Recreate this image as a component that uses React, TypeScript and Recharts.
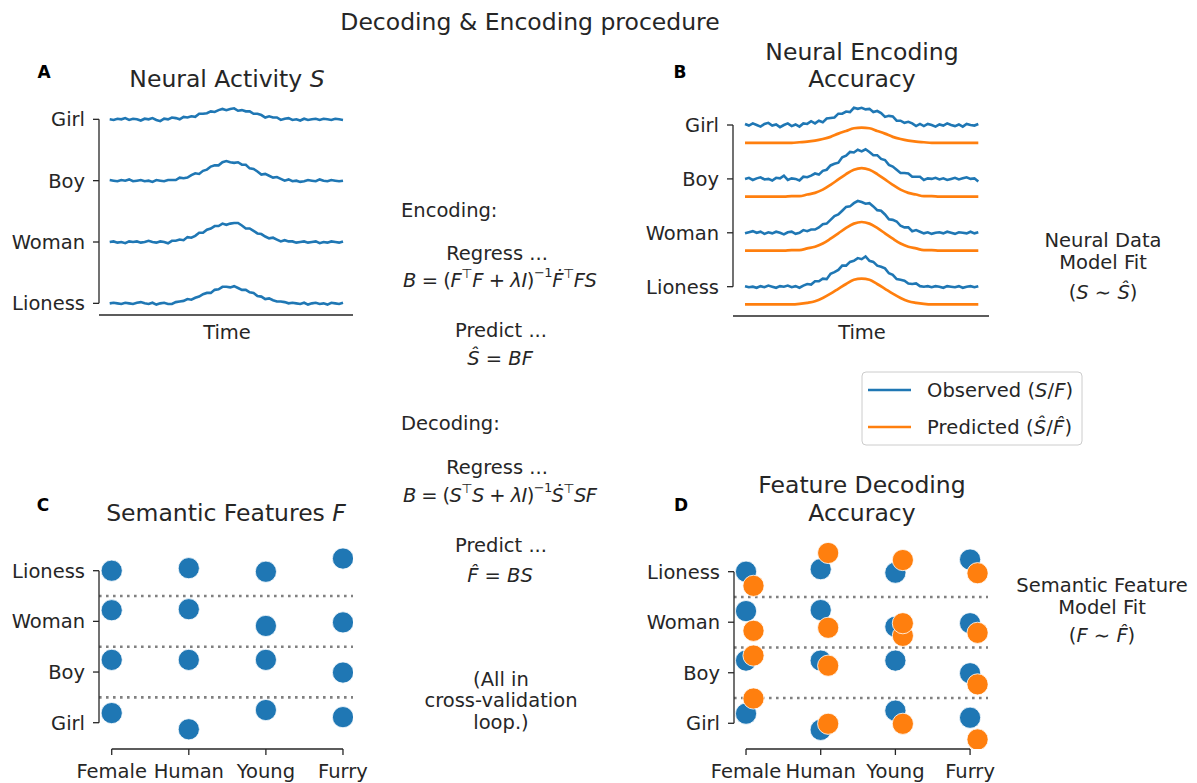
import React from 'react';
import { LineChart, Line, XAxis, YAxis, ReferenceLine, ScatterChart, Scatter } from 'recharts';

// ---------------- data ----------------
const rowsTopDown = ['Girl', 'Boy', 'Woman', 'Lioness'];
const features = ['Female', 'Human', 'Young', 'Furry'];

// Panel A: neural activity S (deviation from each word's row)
const activityGirl = [0.00,-0.01,0.01,0.00,0.02,-0.01,0.01,0.00,-0.02,0.01,
  0.00,0.02,-0.01,-0.03,0.01,0.00,0.03,0.02,0.00,0.04,
  0.03,0.05,0.04,0.09,0.09,0.10,0.13,0.12,0.15,0.17,
  0.15,0.17,0.18,0.14,0.15,0.13,0.13,0.09,0.09,0.07,
  0.03,0.05,0.03,0.03,-0.01,0.01,0.02,-0.01,0.00,-0.02,
  0.01,-0.01,0.00,0.01,-0.01,0.01,0.00,-0.01,0.01,0.00,
  -0.01];
const activityBoy = [0.01,0.00,-0.01,0.01,0.00,0.02,-0.01,0.00,0.01,-0.01,
  0.00,-0.02,0.01,0.00,-0.01,0.01,0.01,0.01,0.05,0.04,
  0.05,0.09,0.12,0.11,0.16,0.18,0.23,0.25,0.25,0.30,
  0.32,0.30,0.29,0.30,0.26,0.26,0.20,0.19,0.15,0.10,
  0.11,0.08,0.05,0.06,0.03,0.00,0.02,-0.01,0.00,-0.02,
  -0.01,0.01,0.00,-0.01,0.02,0.00,-0.01,0.01,0.00,-0.01,
  0.00];
const activityWoman = [0.00,0.01,-0.01,0.00,-0.02,0.01,0.00,0.01,-0.01,0.00,
  0.02,0.00,-0.01,0.01,0.00,-0.02,0.02,0.02,0.04,0.03,
  0.08,0.07,0.10,0.15,0.15,0.20,0.22,0.26,0.26,0.30,
  0.28,0.30,0.31,0.31,0.27,0.22,0.22,0.18,0.14,0.13,
  0.09,0.06,0.07,0.04,0.01,0.03,0.01,0.01,-0.01,0.00,
  0.01,-0.01,0.00,0.01,-0.02,0.00,-0.01,0.01,0.00,-0.01,
  0.01];
const activityLioness = [0.00,0.01,0.00,-0.01,0.01,0.00,-0.01,0.01,0.02,0.00,
  -0.01,0.01,-0.02,0.00,0.01,-0.01,-0.01,0.02,0.03,0.04,
  0.07,0.06,0.09,0.11,0.15,0.17,0.17,0.22,0.23,0.27,
  0.27,0.26,0.28,0.25,0.22,0.22,0.18,0.17,0.12,0.11,
  0.07,0.08,0.05,0.03,0.03,0.02,0.00,0.01,0.00,-0.01,
  0.01,-0.02,0.00,0.01,-0.01,0.00,-0.02,0.01,0.00,-0.01,
  0.01];

// Panel B: observed (blue) and predicted (orange)
const observedGirl = [0.02,-0.01,0.03,0.00,-0.03,0.02,0.04,-0.01,0.01,-0.04,
  0.00,0.03,-0.02,0.01,-0.03,0.03,0.02,0.07,0.03,0.08,
  0.05,0.12,0.13,0.14,0.21,0.21,0.25,0.24,0.32,0.30,
  0.32,0.29,0.30,0.24,0.26,0.22,0.15,0.17,0.16,0.08,
  0.08,0.04,0.06,0.03,-0.02,0.02,-0.02,0.02,0.00,-0.03,
  0.01,-0.01,0.03,0.00,-0.02,0.01,-0.03,0.02,0.00,-0.01,
  0.02];
const observedBoy = [0.00,0.02,-0.02,0.01,0.03,-0.01,0.00,-0.03,0.02,0.01,
  0.06,-0.02,0.01,0.00,-0.03,0.04,0.03,0.06,0.10,0.08,
  0.15,0.17,0.25,0.28,0.30,0.40,0.43,0.50,0.49,0.54,
  0.51,0.55,0.50,0.44,0.44,0.37,0.35,0.26,0.23,0.17,
  0.11,0.11,0.10,0.04,0.04,0.04,-0.02,0.01,0.00,0.02,
  -0.01,0.01,-0.02,0.00,0.02,-0.01,0.01,0.03,0.00,0.01,
  -0.05];
const observedWoman = [-0.01,0.01,0.03,0.00,0.02,-0.02,0.01,-0.01,0.02,0.00,
  -0.03,0.01,0.02,-0.02,0.00,0.05,0.03,0.06,0.06,0.10,
  0.16,0.17,0.24,0.31,0.34,0.41,0.48,0.49,0.55,0.59,
  0.57,0.54,0.55,0.49,0.42,0.41,0.34,0.25,0.24,0.21,
  0.13,0.10,0.10,0.03,0.05,0.02,-0.01,0.01,-0.02,0.00,
  0.01,-0.01,0.02,0.00,-0.02,0.01,0.00,-0.01,0.02,-0.01,
  0.01];
const observedLioness = [0.01,-0.01,0.00,-0.02,0.01,-0.01,0.02,0.00,-0.02,0.01,
  0.00,0.02,-0.01,0.01,-0.02,0.02,0.05,0.04,0.10,0.10,
  0.15,0.14,0.24,0.27,0.31,0.39,0.39,0.46,0.48,0.53,
  0.51,0.56,0.48,0.46,0.39,0.37,0.34,0.25,0.22,0.14,
  0.13,0.11,0.06,0.05,0.06,0.01,0.00,0.01,-0.01,0.01,
  0.00,-0.02,0.01,0.00,-0.01,0.01,-0.02,0.00,0.01,-0.01,
  0.01];

const predictedTime = [0,2,4,6,8,10,12,14,16,18,20,22,24,26,28,30,32,34,36,38,40,42,44,46,48,50,52,54,56,58,60];
const predictedGirl = [0,0,0,0,0,0,0,0.01,0.02,0.04,0.07,0.11,0.17,0.22,0.27,0.28,0.27,0.22,0.17,0.11,0.07,0.04,0.02,0.01,0,0,0,0,0,0,0];
const predictedBoy = [0,0,0,0,0,0,0.01,0.01,0.04,0.07,0.13,0.22,0.32,0.42,0.50,0.53,0.50,0.42,0.32,0.22,0.13,0.07,0.04,0.01,0.01,0,0,0,0,0,0];
const predictedWoman = [0,0,0,0,0,0,0.01,0.01,0.04,0.07,0.13,0.22,0.32,0.42,0.50,0.53,0.50,0.42,0.32,0.22,0.13,0.07,0.04,0.01,0.01,0,0,0,0,0,0];
const predictedLioness = [0,0,0,0,0,0,0,0.01,0.03,0.06,0.12,0.20,0.29,0.38,0.46,0.48,0.46,0.38,0.29,0.20,0.12,0.06,0.03,0.01,0,0,0,0,0,0,0];
const predictedOffset = -0.33;

// Panel C/D: semantic features F (deviation from row), order Female, Human, Young, Furry
const featureGirl = [0.19, -0.13, 0.25, 0.11];
const featureBoy = [0.24, 0.24, 0.24, -0.01];
const featureWoman = [0.22, 0.24, -0.09, -0.02];
const featureLioness = [0.00, 0.05, -0.02, 0.24];
// Panel D: decoded features F-hat
const decodedGirl = [0.49, -0.01, -0.01, -0.32];
const decodedBoy = [0.34, 0.14, 0.73, -0.23];
const decodedWoman = [-0.17, -0.11, -0.02, -0.21];
const decodedLioness = [-0.28, 0.37, 0.23, -0.03];
const decodedShift = 0.1;

// ---------------- style ----------------
const FONT = '"DejaVu Sans", "Liberation Sans", sans-serif';
const INK = '#262626';
const BLUE = '#1f77b4';
const ORANGE = '#ff7f0e';
const tickStyle = { fill: INK, fontSize: 19.5, fontFamily: FONT };
const axisStroke = { stroke: INK, strokeWidth: 1.3 };

const labelsTopDown = ['Lioness', 'Woman', 'Boy', 'Girl'];
const labelsBottomUp = ['Girl', 'Boy', 'Woman', 'Lioness'];

// ---------------- tables ----------------
const activityTable = activityGirl.map((v, i) => ({
  t: i,
  Girl: 3 + v,
  Boy: 2 + activityBoy[i],
  Woman: 1 + activityWoman[i],
  Lioness: 0 + activityLioness[i],
}));
const observedTable = observedGirl.map((v, i) => ({
  t: i,
  Girl: 3 + v,
  Boy: 2 + observedBoy[i],
  Woman: 1 + observedWoman[i],
  Lioness: 0 + observedLioness[i],
}));
const predictedTable = predictedTime.map((t, i) => ({
  t,
  Girl: 3 + predictedOffset + predictedGirl[i],
  Boy: 2 + predictedOffset + predictedBoy[i],
  Woman: 1 + predictedOffset + predictedWoman[i],
  Lioness: 0 + predictedOffset + predictedLioness[i],
}));

const featureRows = [featureGirl, featureBoy, featureWoman, featureLioness];
const decodedRows = [decodedGirl, decodedBoy, decodedWoman, decodedLioness];
const featurePoints = featureRows.flatMap((row, r) => row.map((v, j) => ({ x: j, y: r + v })));
const decodedPoints = decodedRows.flatMap((row, r) => row.map((v, j) => ({ x: j + decodedShift, y: r + v })));

const Dot = (color: string) => (p: any) => (
  <circle cx={p.cx} cy={p.cy} r={10.6} fill={color} stroke="#ffffff" strokeWidth={0.8} />
);

function TracePanel(props: { left: number; top: number; width: number; yAxisWidth: number; right: number; dom: any; children?: any; data: any[] }) {
  const { dom } = props;
  return (
    <div style={{ position: 'absolute', left: props.left, top: props.top }}>
      <LineChart width={props.width} height={260} data={props.data} margin={{ top: 10, right: props.right, bottom: 0, left: 0 }}>
        <XAxis type="number" dataKey="t" domain={[dom.xMin, dom.xMax]} allowDataOverflow tick={false} tickLine={false} axisLine={axisStroke} height={dom.xh} />
        <YAxis type="number" domain={[dom.yMin, dom.yMax]} allowDataOverflow ticks={[0, 1, 2, 3]} interval={0}
          tickFormatter={(v: number) => labelsTopDown[v]} axisLine={false} tickLine={axisStroke} tickSize={6} tickMargin={8}
          tick={tickStyle} width={props.yAxisWidth} />
        <ReferenceLine segment={[{ x: dom.xMin, y: 0 }, { x: dom.xMin, y: 3 }]} stroke={INK} strokeWidth={1.3} ifOverflow="visible" />
        {props.children}
      </LineChart>
    </div>
  );
}

function DotPanel(props: { left: number; top: number; width: number; yAxisWidth: number; right: number; dom: any; showDecoded: boolean }) {
  const { dom } = props;
  return (
    <div style={{ position: 'absolute', left: props.left, top: props.top }}>
      <ScatterChart width={props.width} height={263} margin={{ top: 20, right: props.right, bottom: 0, left: 0 }}>
        <XAxis type="number" dataKey="x" domain={[dom.xMin, dom.xMax]} allowDataOverflow ticks={[0, 1, 2, 3]} interval={0}
          tickFormatter={(v: number) => features[v]} axisLine={false} tickLine={axisStroke} tickSize={6} tickMargin={9}
          tick={tickStyle} height={34} />
        <YAxis type="number" dataKey="y" domain={[dom.yMin, dom.yMax]} allowDataOverflow ticks={[0, 1, 2, 3]} interval={0}
          tickFormatter={(v: number) => labelsBottomUp[v]} axisLine={false} tickLine={axisStroke} tickSize={6} tickMargin={8}
          tick={tickStyle} width={props.yAxisWidth} />
        {[0.5, 1.5, 2.5].map((y) => (
          <ReferenceLine key={y} y={y} stroke="#808080" strokeWidth={2.6} strokeDasharray="2.6 4.4" />
        ))}
        <ReferenceLine segment={[{ x: dom.xMin, y: 0 }, { x: dom.xMin, y: 3 }]} stroke={INK} strokeWidth={1.3} ifOverflow="visible" />
        <ReferenceLine segment={[{ x: 0, y: dom.yMin }, { x: 3, y: dom.yMin }]} stroke={INK} strokeWidth={1.3} ifOverflow="visible" />
        <Scatter data={featurePoints} fill={BLUE} shape={Dot(BLUE)} isAnimationActive={false} />
        {props.showDecoded && <Scatter data={decodedPoints} fill={ORANGE} shape={Dot(ORANGE)} isAnimationActive={false} />}
      </ScatterChart>
    </div>
  );
}

const it = { fontStyle: 'italic' as const };
const sup = 13;

export default function App() {
  const domA = { xMin: -2.75, xMax: 62.57, yMin: -0.19, yMax: 3.315, xh: 35 };
  const domB = { xMin: -3.09, xMax: 62.75, yMin: -0.544, yMax: 3.464, xh: 34 };
  const domC = { xMin: -0.165, xMax: 3.13, yMin: -0.519, yMax: 3.606 };
  const domD = { xMin: -0.161, xMax: 3.24, yMin: -0.509, yMax: 3.627 };
  const T = (p: any) => (
    <text fontFamily={FONT} fill={INK} fontSize={19.5} textAnchor="middle" dominantBaseline="central" {...p} />
  );
  return (
    <div style={{ position: 'absolute', left: 0, top: 0, width: 1197, height: 783, background: '#fff', fontFamily: FONT }}>
      <TracePanel left={0} top={90} width={370} yAxisWidth={99} right={17} dom={domA} data={activityTable}>
        {rowsTopDown.map((w) => (
          <Line key={w} type="linear" dataKey={w} stroke={BLUE} strokeWidth={2.6} dot={false} isAnimationActive={false} />
        ))}
      </TracePanel>
      <TracePanel left={620} top={90} width={390} yAxisWidth={113} right={21} dom={domB} data={observedTable}>
        {rowsTopDown.map((w) => (
          <Line key={'o' + w} type="linear" dataKey={w} stroke={BLUE} strokeWidth={2.6} dot={false} isAnimationActive={false} />
        ))}
        {rowsTopDown.map((w) => (
          <Line key={'p' + w} type="monotone" data={predictedTable} dataKey={w} stroke={ORANGE} strokeWidth={2.7} dot={false} isAnimationActive={false} />
        ))}
      </TracePanel>
      <DotPanel left={0} top={520} width={370} yAxisWidth={99} right={17} dom={domC} showDecoded={false} />
      <DotPanel left={620} top={520} width={1010 - 620} yAxisWidth={114} right={22} dom={domD} showDecoded={true} />

      <svg width={1197} height={783} style={{ position: 'absolute', left: 0, top: 0, pointerEvents: 'none' }}>
        <T x={530} y={22} fontSize={23.5}>Decoding &amp; Encoding procedure</T>

        <T x={44} y={72} fontSize={17} fontWeight="bold" fill="#000">A</T>
        <T x={227} y={79} fontSize={23.5}>Neural Activity <tspan style={it}>S</tspan></T>
        <T x={227} y={332}>Time</T>

        <T x={680} y={72} fontSize={17} fontWeight="bold" fill="#000">B</T>
        <T x={862} y={52} fontSize={23.5}>Neural Encoding</T>
        <T x={862} y={79} fontSize={23.5}>Accuracy</T>
        <T x={862} y={332}>Time</T>

        <T x={43} y={505} fontSize={17} fontWeight="bold" fill="#000">C</T>
        <T x={226} y={513} fontSize={23.5}>Semantic Features <tspan style={it}>F</tspan></T>

        <T x={681} y={505} fontSize={17} fontWeight="bold" fill="#000">D</T>
        <T x={862} y={485} fontSize={23.5}>Feature Decoding</T>
        <T x={862} y={513} fontSize={23.5}>Accuracy</T>

        <T x={401} y={210} textAnchor="start">Encoding:</T>
        <T x={497} y={253}>Regress ...</T>
        <T x={500} y={280} textLength={194} lengthAdjust="spacing"><tspan style={it}>B</tspan> = (<tspan style={it}>F</tspan><tspan dy={-7} fontSize={sup}>⊤</tspan><tspan dy={7} style={it}>F</tspan> + <tspan style={it}>λI</tspan>)<tspan dy={-8} fontSize={sup}>−1</tspan><tspan dy={8} style={it}>F&#775;</tspan><tspan dy={-7} fontSize={sup}>⊤</tspan><tspan dy={7} style={it}>FS</tspan></T>
        <T x={501} y={330}>Predict ...</T>
        <T x={500} y={358}><tspan style={it}>S&#770;</tspan> = <tspan style={it}>BF</tspan></T>

        <T x={401} y={423} textAnchor="start">Decoding:</T>
        <T x={497} y={467}>Regress ...</T>
        <T x={500} y={495} textLength={194} lengthAdjust="spacing"><tspan style={it}>B</tspan> = (<tspan style={it}>S</tspan><tspan dy={-7} fontSize={sup}>⊤</tspan><tspan dy={7} style={it}>S</tspan> + <tspan style={it}>λI</tspan>)<tspan dy={-8} fontSize={sup}>−1</tspan><tspan dy={8} style={it}>S&#775;</tspan><tspan dy={-7} fontSize={sup}>⊤</tspan><tspan dy={7} style={it}>SF</tspan></T>
        <T x={501} y={545}>Predict ...</T>
        <T x={500} y={575}><tspan style={it}>F&#770;</tspan> = <tspan style={it}>BS</tspan></T>

        <T x={501} y={679}>(All in</T>
        <T x={501} y={700}>cross-validation</T>
        <T x={501} y={722}>loop.)</T>

        <T x={1103} y={240}>Neural Data</T>
        <T x={1103} y={262}>Model Fit</T>
        <T x={1103} y={292}>(<tspan style={it}>S</tspan> ∼ <tspan style={it}>S&#770;</tspan>)</T>

        <T x={1102} y={585}>Semantic Feature</T>
        <T x={1102} y={607}>Model Fit</T>
        <T x={1102} y={635}>(<tspan style={it}>F</tspan> ∼ <tspan style={it}>F&#770;</tspan>)</T>

        <rect x={862} y={372} width={220} height={73} rx={4} fill="#ffffff" fillOpacity={0.8} stroke="#cccccc" strokeWidth={1} />
        <line x1={868} x2={911} y1={390} y2={390} stroke={BLUE} strokeWidth={2.6} />
        <line x1={868} x2={911} y1={427} y2={427} stroke={ORANGE} strokeWidth={2.6} />
        <T x={927} y={390} textAnchor="start" textLength={146} lengthAdjust="spacing">Observed (<tspan style={it}>S</tspan>/<tspan style={it}>F</tspan>)</T>
        <T x={927} y={427} textAnchor="start" textLength={145} lengthAdjust="spacing">Predicted (<tspan style={it}>S&#770;</tspan>/<tspan style={it}>F&#770;</tspan>)</T>
      </svg>
    </div>
  );
}
